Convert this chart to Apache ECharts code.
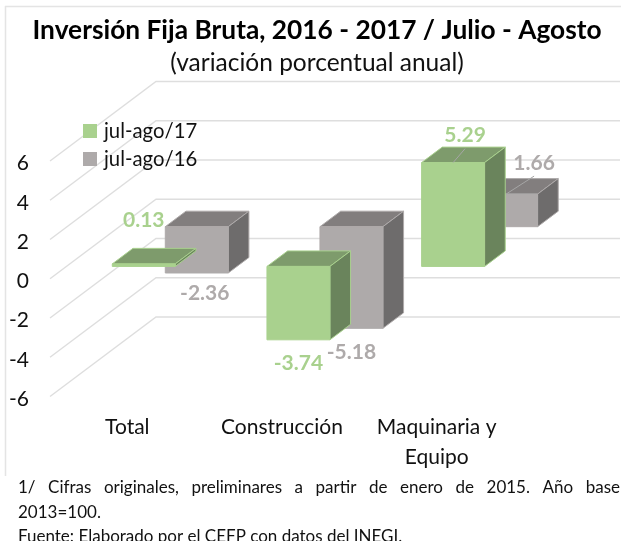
<!DOCTYPE html>
<html>
<head>
<meta charset="utf-8">
<title>Inversión Fija Bruta</title>
<style>
html, body { margin: 0; padding: 0; background: #fff; }
#main { width: 621px; height: 541px; }
</style>
<script src="https://cdn.jsdelivr.net/npm/echarts@6/dist/echarts.min.js"></script>
</head>
<body>
<div id="main"></div>
<script>
var categories = ['Total', 'Construcción', 'Maquinaria y\nEquipo'];
var yTicks = [-6, -4, -2, 0, 2, 4, 6];
var values17 = [0.13, -3.74, 5.29];
var values16 = [-2.36, -5.18, 1.66];
var seriesName17 = 'jul-ago/17';
var seriesName16 = 'jul-ago/16';
var footLine1 = '1/ Cifras originales, preliminares a partir de enero de 2015. Año base';
var footLine2 = '2013=100.';
var footLine3 = 'Fuente: Elaborado por el CEFP con datos del INEGI.';

var FONT = 'Lato, Carlito, sans-serif';
// vector de profundidad del piso 3D
var depthX = 106, depthY = -79.5;
var barWidth = 0.407;

var green = { front: '#a9d18e', top: '#7e9b6c', side: '#6a845c', text: '#a9d18e', row: 0.155 };
var gray = { front: '#aeaaaa', top: '#827e7e', side: '#6e6c6c', text: '#aeaaaa', row: 0.655 };
// desplazamiento de las etiquetas respecto a la barra
var green_labels = [[0, -44, false], [0, 23, false], [12, -27, true]];
var gray_labels = [[8, 20, false], [0, 24, false], [28, -31, true]];

function renderWalls(params, api) {
	var front = api.coord([0, api.value(0)]);
	var x0 = params.coordSys.x;
	var x1 = x0 + params.coordSys.width;
	return {
		type: 'polyline',
		shape: { points: [[x0, front[1]], [x0 + depthX, front[1] + depthY], [x1 + depthX, front[1] + depthY]] },
		style: { fill: null, stroke: '#dedede', lineWidth: 1.4 },
		silent: true
	};
}

function makeBars(colors, labels) {
	return function (params, api) {
		var idx = api.value(0);
		var v = api.value(1);
		var p0 = api.coord([idx, 0]);
		var pv = api.coord([idx, v]);
		var w = api.size([1, 0])[0] * barWidth;
		var ox = depthX * colors.row;
		var oy = depthY * colors.row;
		var dx = depthX * 0.195;
		var dy = depthY * 0.195;
		var left = p0[0] + ox - w / 2;
		var right = left + w;
		var yTop = Math.min(p0[1], pv[1]) + oy;
		var yBot = Math.max(p0[1], pv[1]) + oy;
		var anchorX = left + w / 2;
		var anchorY = pv[1] + oy;
		var off = labels[idx];
		var children = [{
			type: 'polygon',
			shape: { points: [[left, yTop], [right, yTop], [right + dx, yTop + dy], [left + dx, yTop + dy]] },
			style: { fill: colors.top, stroke: colors.front, lineWidth: 1 }
		}, {
			type: 'polygon',
			shape: { points: [[right, yTop], [right + dx, yTop + dy], [right + dx, yBot + dy], [right, yBot]] },
			style: { fill: colors.side, stroke: colors.front, lineWidth: 1 }
		}, {
			type: 'rect',
			shape: { x: left, y: yTop, width: w, height: yBot - yTop },
			style: { fill: colors.front, stroke: colors.front, lineWidth: 1 }
		}];
		if (off[2]) {
			children.push({
				type: 'line',
				shape: { x1: anchorX, y1: anchorY, x2: anchorX + off[0], y2: anchorY + off[1] + 13 },
				style: { stroke: '#a6a6a6', lineWidth: 1 }
			});
		}
		children.push({
			type: 'text',
			style: {
				x: anchorX + off[0],
				y: anchorY + off[1],
				text: v.toFixed(2),
				fill: colors.text,
				font: 'bold 21px ' + FONT,
				textAlign: 'center',
				textVerticalAlign: 'middle'
			}
		});
		return { type: 'group', children: children };
	};
}

function toRows(arr) {
	var rows = [];
	for (var i = 0; i < arr.length; i++) {
		rows.push([i, arr[i]]);
	}
	return rows;
}

// linea justificada: cada palabra se coloca a mano como en el original
function justified(line, x0, x1, y, font) {
	var ctx = document.createElement('canvas').getContext('2d');
	ctx.font = font;
	var words = line.split(' ');
	var used = 0;
	for (var i = 0; i < words.length; i++) {
		used += ctx.measureText(words[i]).width;
	}
	var gap = (x1 - x0 - used) / (words.length - 1);
	var out = [];
	var x = x0;
	for (var j = 0; j < words.length; j++) {
		out.push({
			type: 'text', x: x, y: y,
			style: { text: words[j], font: font, fill: '#111', textVerticalAlign: 'middle' }
		});
		x += ctx.measureText(words[j]).width + gap;
	}
	return out;
}

var footFont = '17px ' + FONT;
var graphics = [
	{ type: 'line', shape: { x1: 5.5, y1: 6, x2: 5.5, y2: 476 }, style: { stroke: '#e4e4e4', lineWidth: 1.5 } },
	{ type: 'line', shape: { x1: 5, y1: 6.5, x2: 621, y2: 6.5 }, style: { stroke: '#e4e4e4', lineWidth: 1.5 } }
].concat(justified(footLine1, 18, 620, 488, footFont));
graphics.push({ type: 'text', x: 18, y: 513, style: { text: footLine2, font: footFont, fill: '#111', textVerticalAlign: 'middle' } });
graphics.push({ type: 'text', x: 18, y: 537, style: { text: footLine3, font: footFont, fill: '#111', textVerticalAlign: 'middle' } });

var myChart = echarts.init(document.getElementById('main'), null, { renderer: 'canvas' });
myChart.setOption({
	animation: false,
	backgroundColor: '#fff',
	textStyle: { fontFamily: FONT },
	title: {
		text: 'Inversión Fija Bruta, 2016 - 2017 / Julio - Agosto',
		subtext: '(variación porcentual anual)',
		left: 312,
		top: 13,
		textAlign: 'center',
		itemGap: 7,
		textStyle: { fontFamily: FONT, fontSize: 26.3, fontWeight: 'bold', color: '#000' },
		subtextStyle: { fontFamily: FONT, fontSize: 24.5, color: '#111' }
	},
	legend: {
		data: [seriesName17, seriesName16],
		orient: 'vertical',
		left: 78,
		top: 116,
		itemWidth: 14,
		itemHeight: 14,
		itemGap: 8,
		icon: 'rect',
		textStyle: { fontFamily: FONT, fontSize: 20.3, color: '#111', padding: [0, 0, 0, 2] }
	},
	grid: { left: 50, top: 161, width: 464, height: 235.5 },
	xAxis: {
		type: 'category',
		data: categories,
		axisLine: { show: false },
		axisTick: { show: false },
		splitLine: { show: false },
		axisLabel: { interval: 0, margin: 16, fontFamily: FONT, fontSize: 21, color: '#111', lineHeight: 30 }
	},
	yAxis: {
		type: 'value',
		min: -6,
		max: 6,
		interval: 2,
		axisLine: { show: false },
		axisTick: { show: false },
		splitLine: { show: false },
		axisLabel: { margin: 21, fontFamily: FONT, fontSize: 21, color: '#111', verticalAlign: 'top', lineHeight: 5 }
	},
	graphic: graphics,
	series: [{
		type: 'custom',
		name: 'walls',
		coordinateSystem: 'cartesian2d',
		renderItem: renderWalls,
		data: yTicks.map(function (t) { return [t]; }),
		encode: { y: 0 },
		silent: true,
		z: 1
	}, {
		type: 'custom',
		name: seriesName16,
		renderItem: makeBars(gray, gray_labels),
		data: toRows(values16),
		encode: { x: 0, y: 1 },
		itemStyle: { color: gray.front },
		z: 2
	}, {
		type: 'custom',
		name: seriesName17,
		renderItem: makeBars(green, green_labels),
		data: toRows(values17),
		encode: { x: 0, y: 1 },
		itemStyle: { color: green.front },
		z: 3
	}]
});
</script>
</body>
</html>
